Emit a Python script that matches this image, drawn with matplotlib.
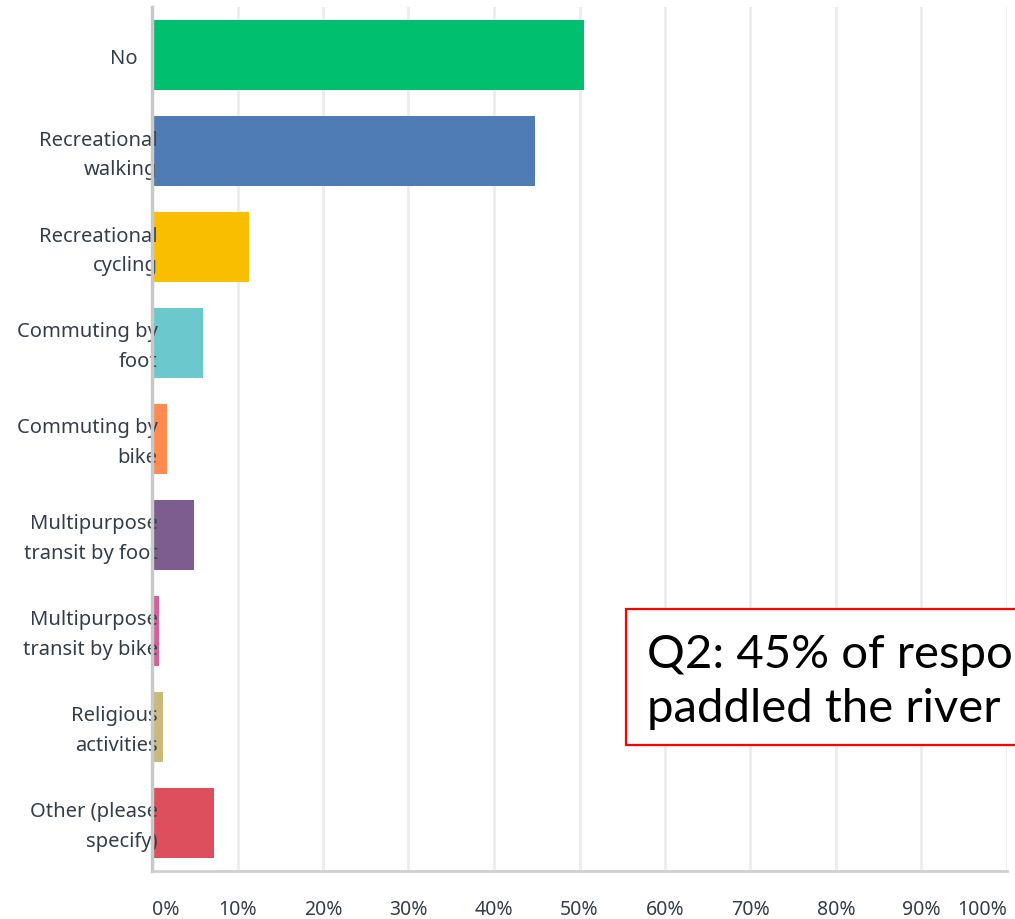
import matplotlib.pyplot as plt
from matplotlib.patches import Rectangle
from matplotlib.transforms import ScaledTranslation

# survey answers
categories = ["No", "Recreational\nwalking", "Recreational\ncycling", "Commuting by\nfoot",
              "Commuting by\nbike", "Multipurpose\ntransit by foot", "Multipurpose\ntransit by bike",
              "Religious\nactivities", "Other (please\nspecify)"]
percent = [50.5, 44.8, 11.3, 6.0, 1.8, 4.9, 0.8, 1.3, 7.2]
colors = ["#00bf6f", "#507cb6", "#f9be00", "#6bc8cd", "#ff8b4f",
          "#7d5c8f", "#d55f97", "#c9b97a", "#dd4f5d"]
xticks = [0, 10, 20, 30, 40, 50, 60, 70, 80, 90, 100]
xtick_labels = [f"{t}%" for t in xticks]
note = "Q2: 45% of respondents have\npaddled the river"

W, H = 1015, 920
fig = plt.figure(figsize=(W / 100, H / 100), dpi=100)
ax = fig.add_axes([152 / W, (H - 872) / H, (1007 - 152) / W, (872 - 8) / H])

# grid lines by hand so the tick labels can stay above the bars
for t in xticks[1:]:
    ax.axvline(t, color="#ececec", linewidth=2, zorder=0)

ypos = list(range(len(categories)))
ax.barh(ypos, percent, height=0.73, color=colors, zorder=1)

ax.set_xlim(0, 100)
ax.set_ylim(len(categories) - 0.5, -0.5)
ax.set_xticks(xticks)
ax.set_xticklabels(xtick_labels)
ax.set_yticks(ypos)
ax.set_yticklabels(categories)

txt_color = "#333e48"
ax.tick_params(axis="y", length=0, pad=-4, labelsize=14.5, labelcolor=txt_color)
ax.tick_params(axis="x", length=0, pad=20, labelsize=14, labelcolor=txt_color)
for i, lab in enumerate(ax.get_yticklabels()):
    lab.set_fontfamily("Noto Sans")
    lab.set_linespacing(1.65)
    if i == 0:
        # the single-line "No" sits a bit further left in the original
        shift = ScaledTranslation(-0.20, 0, fig.dpi_scale_trans)
    else:
        shift = ScaledTranslation(0, 0.04, fig.dpi_scale_trans)
    lab.set_transform(lab.get_transform() + shift)
for i, lab in enumerate(ax.get_xticklabels()):
    lab.set_fontfamily("Noto Sans")
    if i == 0:
        lab.set_horizontalalignment("left")
    elif i == len(xticks) - 1:
        lab.set_horizontalalignment("right")

for s in ["top", "right"]:
    ax.spines[s].set_visible(False)
ax.spines["left"].set_color("#c8c8c8")
ax.spines["left"].set_linewidth(2.5)
ax.spines["bottom"].set_color("#cfcfcf")
ax.spines["bottom"].set_linewidth(2)

# callout box, runs off the right edge
fig.add_artist(Rectangle((626 / W, (H - 746) / H), (W - 620) / W, 136 / H,
                         transform=fig.transFigure, facecolor="white",
                         edgecolor="#ff0000", linewidth=1.6, zorder=5))
fig.text(647 / W, (H - 722) / H, note, fontsize=34, family="Lato",
         va="baseline", ha="left", linespacing=1.35, color="black", zorder=6)

fig.savefig("out.png", dpi=100)
